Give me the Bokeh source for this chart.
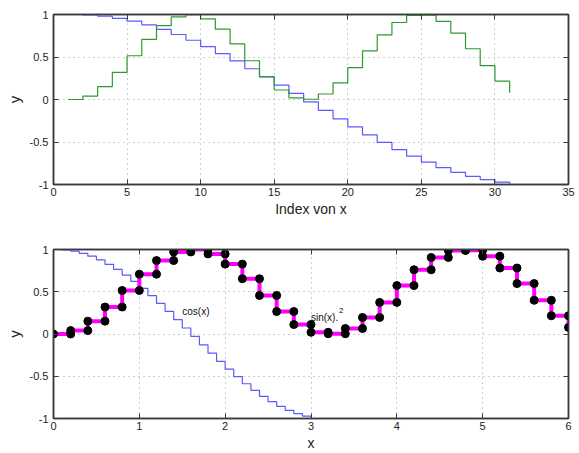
from bokeh.plotting import figure
from bokeh.layouts import column
from bokeh.models import FixedTicker, CustomJSTickFormatter, LinearAxis, Range1d
from bokeh.embed import file_html
from bokeh.resources import INLINE
from bokeh.core.properties import value

# Sample positions
x_cos = [0.0, 0.1, 0.2, 0.3, 0.4, 0.5, 0.6, 0.7, 0.8, 0.9, 1.0, 1.1, 1.2, 1.3, 1.4, 1.5,
         1.6, 1.7, 1.8, 1.9, 2.0, 2.1, 2.2, 2.3, 2.4, 2.5, 2.6, 2.7, 2.8, 2.9, 3.0]
x_sin = [0.0, 0.2, 0.4, 0.6, 0.8, 1.0, 1.2, 1.4, 1.6, 1.8, 2.0, 2.2, 2.4, 2.6, 2.8, 3.0,
         3.2, 3.4, 3.6, 3.8, 4.0, 4.2, 4.4, 4.6, 4.8, 5.0, 5.2, 5.4, 5.6, 5.8, 6.0]
index = [1, 2, 3, 4, 5, 6, 7, 8, 9, 10, 11, 12, 13, 14, 15, 16,
         17, 18, 19, 20, 21, 22, 23, 24, 25, 26, 27, 28, 29, 30, 31]

# Series values
cos_vals = [1.0, 0.995, 0.980, 0.955, 0.921, 0.878, 0.825, 0.765, 0.697, 0.622, 0.540,
            0.454, 0.362, 0.268, 0.170, 0.071, -0.029, -0.129, -0.227, -0.323, -0.416,
            -0.505, -0.589, -0.666, -0.737, -0.801, -0.857, -0.904, -0.942, -0.971, -0.990]
sin2_vals = [0.0, 0.040, 0.152, 0.319, 0.515, 0.708, 0.869, 0.971, 0.999, 0.948, 0.827,
             0.654, 0.456, 0.266, 0.112, 0.020, 0.003, 0.065, 0.196, 0.374, 0.573,
             0.760, 0.906, 0.988, 0.992, 0.920, 0.781, 0.597, 0.399, 0.216, 0.078]

y_ticks = [-1, -0.5, 0, 0.5, 1]
x_ticks_top = [0, 5, 10, 15, 20, 25, 30, 35]
x_ticks_bottom = [0, 1, 2, 3, 4, 5, 6]

FONT = "Liberation Sans"
AXIS_COLOR = "#3a3a3a"
BLUE = "#5a5aff"
GREEN = "#2e9a2e"


def edge_axis(ticks):
    # unlabeled axis that only puts inward tick marks on the far edges of the box
    return LinearAxis(ticker=FixedTicker(ticks=ticks),
                      formatter=CustomJSTickFormatter(code="return '';"),
                      major_tick_in=5, major_tick_out=0, minor_tick_in=0, minor_tick_out=0,
                      axis_line_color=AXIS_COLOR, axis_line_width=1.5,
                      major_tick_line_color=AXIS_COLOR, major_label_standoff=0)


def style(p, xticks, xlabel):
    fmt = CustomJSTickFormatter(code="return String(tick);")
    p.xaxis.ticker = FixedTicker(ticks=xticks)
    p.yaxis.ticker = FixedTicker(ticks=y_ticks)
    p.xaxis.formatter = fmt
    p.yaxis.formatter = fmt
    p.xgrid.ticker = FixedTicker(ticks=xticks)
    p.ygrid.ticker = FixedTicker(ticks=y_ticks)
    for ax in p.axis:
        ax.major_tick_in = 5
        ax.major_tick_out = 0
        ax.minor_tick_in = 0
        ax.minor_tick_out = 0
        ax.axis_line_color = AXIS_COLOR
        ax.axis_line_width = 1.5
        ax.major_tick_line_color = AXIS_COLOR
        ax.major_label_text_font = FONT
        ax.major_label_text_font_size = "11px"
        ax.major_label_text_color = "#222222"
        ax.axis_label_text_font = FONT
        ax.axis_label_text_font_style = "normal"
        ax.axis_label_text_font_size = "14px"
        ax.axis_label_text_color = "#222222"
    p.xaxis.axis_label = xlabel
    p.yaxis.axis_label = "y"
    p.yaxis.axis_label_text_font_size = "15px"
    p.xaxis.major_label_standoff = 3
    p.yaxis.major_label_standoff = 5
    p.xaxis.axis_label_standoff = 2
    p.yaxis.axis_label_standoff = 4
    for g in (p.xgrid, p.ygrid):
        g.grid_line_color = "#9a9a9a"
        g.grid_line_dash = "1 4"
        g.grid_line_width = 1
    p.outline_line_color = AXIS_COLOR
    p.outline_line_width = 1.5
    p.add_layout(edge_axis(y_ticks), "right")
    p.add_layout(edge_axis(xticks), "above")
    p.background_fill_color = "white"
    p.border_fill_color = "white"


# Upper panel: both series against their sample index
p1 = figure(width=579, height=230, x_range=Range1d(0, 35), y_range=Range1d(-1, 1),
            output_backend="svg", toolbar_location=None,
            min_border_left=53, min_border_right=11, min_border_top=14, min_border_bottom=46)
p1.step(index, cos_vals, mode="after", line_color=BLUE, line_width=1.2)
p1.step(index, sin2_vals, mode="after", line_color=GREEN, line_width=1.2)
style(p1, x_ticks_top, "Index von x")
p1.xaxis[0].axis_label_text_font_size = "15px"
p1.xaxis[0].axis_label_standoff = 6

# Lower panel: both series against x, sin^2 drawn with markers on each stair corner
p2 = figure(width=579, height=223, x_range=Range1d(0, 6), y_range=Range1d(-1, 1),
            output_backend="svg", toolbar_location=None,
            min_border_left=53, min_border_right=11, min_border_top=19, min_border_bottom=34)
p2.step(x_cos, cos_vals, mode="after", line_color=BLUE, line_width=1.2)
p2.step(x_sin, sin2_vals, mode="after", line_color="#ff00ff", line_width=4)

corner_x = [x_sin[0]]
corner_y = [sin2_vals[0]]
for i in range(1, len(x_sin)):
    corner_x += [x_sin[i], x_sin[i]]
    corner_y += [sin2_vals[i - 1], sin2_vals[i]]
p2.scatter(corner_x, corner_y, size=8, marker="circle", fill_color="black", line_color="black")

p2.text(x=[1.5], y=[0.27], text=["cos(x)"], text_font=value(FONT), text_font_size="10px",
        text_baseline="middle", text_align="left", text_color="#111111")
p2.text(x=[3.0], y=[0.2], text=["sin(x)."], text_font=value(FONT), text_font_size="10px",
        text_baseline="middle", text_align="left", text_color="#111111")
# raised exponent after "sin(x)."
p2.text(x=[3.0], y=[0.2], text=["2"], text_font=value(FONT), text_font_size="8px",
        x_offset=28, y_offset=-7, text_baseline="middle", text_align="left",
        text_color="#111111")
style(p2, x_ticks_bottom, "x")

layout = column(p1, p2, spacing=0)
open("out.html", "w").write(file_html(layout, INLINE))
